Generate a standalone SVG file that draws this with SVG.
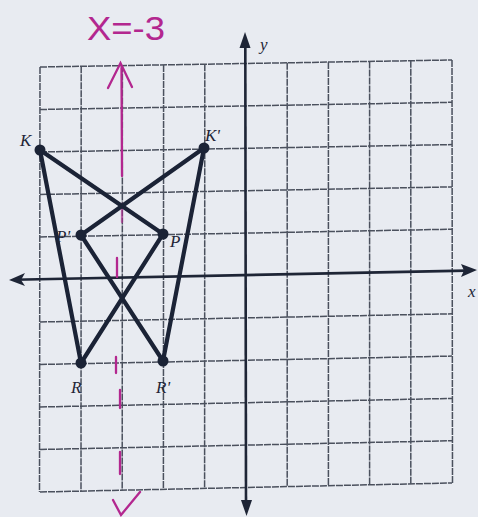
<svg xmlns="http://www.w3.org/2000/svg" width="478" height="517" viewBox="0 0 478 517">
  <defs>
    <style>
      .grid { stroke: #4a505d; stroke-width: 1.5; fill: none; stroke-dasharray: 7 1; }
      .axis { stroke: #1e2536; stroke-width: 2.6; fill: none; }
      .head { fill: #1e2536; }
      .seg { stroke: #1b2336; stroke-width: 4.2; stroke-linecap: round; fill: none; }
      .dot { fill: #1b2336; }
      .lbl { font-family: "Liberation Serif", serif; font-style: italic; font-size: 17px; fill: #1f2637; }
      .mag { stroke: #b3278f; stroke-width: 2.3; stroke-linecap: round; fill: none; }
      .magt { font-family: "Liberation Sans", sans-serif; font-size: 34px; fill: #b3278f; }
    </style>
  </defs>
  <rect x="0" y="0" width="478" height="517" fill="#e8ebf1"/>

  <!-- grid -->
  <g id="grid">
    <line class="grid" x1="40" y1="67" x2="452" y2="60"/>
    <line class="grid" x1="40" y1="109.5" x2="452" y2="102.3"/>
    <line class="grid" x1="40" y1="152" x2="452" y2="144.6"/>
    <line class="grid" x1="40" y1="194.5" x2="452" y2="186.9"/>
    <line class="grid" x1="40" y1="237" x2="452" y2="229.2"/>
    <line class="grid" x1="40" y1="322" x2="452" y2="313.8"/>
    <line class="grid" x1="40" y1="364.5" x2="452" y2="356.1"/>
    <line class="grid" x1="40" y1="407" x2="452" y2="398.4"/>
    <line class="grid" x1="40" y1="449.5" x2="452" y2="440.7"/>
    <line class="grid" x1="40" y1="492" x2="452" y2="483"/>
    <line class="grid" x1="40" y1="67" x2="39.5" y2="492"/>
    <line class="grid" x1="81.2" y1="66.3" x2="81" y2="491.1"/>
    <line class="grid" x1="122.4" y1="65.6" x2="122.2" y2="490.2"/>
    <line class="grid" x1="163.6" y1="64.9" x2="163.4" y2="489.3"/>
    <line class="grid" x1="204.8" y1="64.2" x2="204.6" y2="488.4"/>
    <line class="grid" x1="287.2" y1="62.8" x2="287.2" y2="486.6"/>
    <line class="grid" x1="328.4" y1="62.1" x2="328.4" y2="485.7"/>
    <line class="grid" x1="369.6" y1="61.4" x2="369.6" y2="484.8"/>
    <line class="grid" x1="410.8" y1="60.7" x2="410.8" y2="483.9"/>
    <line class="grid" x1="452" y1="60" x2="452.5" y2="483"/>
  </g>

  <!-- axes -->
  <g id="axes">
    <line class="axis" x1="14" y1="279.8" x2="466" y2="270.6"/>
    <polygon class="head" points="9,280 25,273 21,280 25,286"/>
    <polygon class="head" points="477,270 461,264 464,270.5 461,277"/>
    <line class="axis" x1="245.3" y1="44" x2="246" y2="504"/>
    <polygon class="head" points="245,32 239.5,48 250.5,48"/>
    <polygon class="head" points="246.5,516 241,500 252,500"/>
    <text class="lbl" x="260" y="50" font-size="15">y</text>
    <text class="lbl" x="468" y="297" font-size="15">x</text>
  </g>

  <!-- magenta line of reflection -->
  <g id="mirror">
    <text class="magt" x="87" y="40" textLength="78" lengthAdjust="spacingAndGlyphs">X=-3</text>
    <path class="mag" d="M108,88 L120.5,63 L132,87"/>
    <line class="mag" x1="121.5" y1="68" x2="122" y2="176"/>
    <line class="mag" x1="122" y1="204" x2="122" y2="222" stroke-opacity="0.6"/>
    <line class="mag" x1="117" y1="258" x2="117" y2="277"/>
    <line class="mag" x1="116" y1="357" x2="116" y2="373"/>
    <line class="mag" x1="120" y1="390" x2="120" y2="408"/>
    <line class="mag" x1="120" y1="452" x2="120" y2="474"/>
    <path class="mag" d="M113,500 L121,515 L140,492"/>
  </g>

  <!-- connectors -->
  <g id="connectors">
    <line class="seg" x1="40" y1="150" x2="163" y2="234"/>
    <line class="seg" x1="40" y1="150" x2="81" y2="363"/>
    <line class="seg" x1="163" y1="234" x2="81" y2="363"/>
    <line class="seg" x1="204" y1="148" x2="81" y2="235"/>
    <line class="seg" x1="204" y1="148" x2="163" y2="361"/>
    <line class="seg" x1="81" y1="235" x2="163" y2="361"/>
  </g>

  <!-- nodes -->
  <g id="K">
    <circle class="dot" cx="40" cy="150" r="5.5"/>
    <text class="lbl" x="20" y="146">K</text>
  </g>
  <g id="P">
    <circle class="dot" cx="163" cy="234" r="5.5"/>
    <text class="lbl" x="170" y="247">P</text>
  </g>
  <g id="R">
    <circle class="dot" cx="81" cy="363" r="5.5"/>
    <text class="lbl" x="71" y="393">R</text>
  </g>
  <g id="K-prime">
    <circle class="dot" cx="204" cy="148" r="5.5"/>
    <text class="lbl" x="205" y="141">K'</text>
  </g>
  <g id="P-prime">
    <circle class="dot" cx="81" cy="235" r="5.5"/>
    <text class="lbl" x="56" y="242">P'</text>
  </g>
  <g id="R-prime">
    <circle class="dot" cx="163" cy="361" r="5.5"/>
    <text class="lbl" x="156" y="393">R'</text>
  </g>
</svg>
